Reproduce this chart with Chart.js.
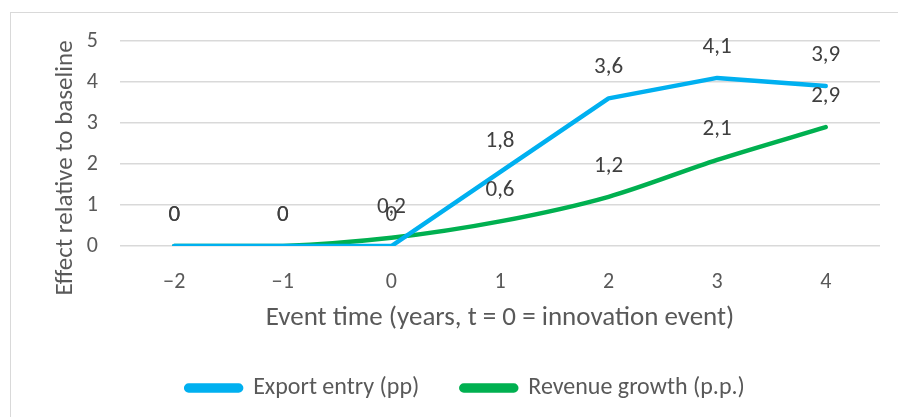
<!DOCTYPE html>
<html>
<head>
<meta charset="utf-8">
<script src="https://cdn.jsdelivr.net/npm/chart.js@4"></script>
<style>
  html, body { margin: 0; padding: 0; background: #fff; }
  #wrap { position: relative; width: 898px; height: 417px; overflow: hidden; }
  #frame { position: absolute; left: 10px; top: 12px; width: 900px; height: 420px; border: 1px solid #d9d9d9; box-sizing: border-box; }
  #chart { position: absolute; left: 0; top: 0; }
</style>
</head>
<body>
<div id="wrap">
  <div id="frame"></div>
  <canvas id="chart" width="898" height="417"></canvas>
</div>
<script>
const years = ['\u22122', '\u22121', '0', '1', '2', '3', '4'];
const exportEntry = [0, 0, 0, 1.8, 3.6, 4.1, 3.9];
const revenueGrowth = [0, 0, 0.2, 0.6, 1.2, 2.1, 2.9];

const fontFamily = "Carlito, 'Liberation Sans Narrow', 'Open Sans', sans-serif";
const textColor = '#595959';
const yTitle = 'Effect relative to baseline';

// labels drawn above every point, comma decimals like the original
const pointLabels = {
  id: 'pointLabels',
  afterDatasetsDraw(chart) {
    const ctx = chart.ctx;
    ctx.save();
    ctx.font = '23px ' + fontFamily;
    ctx.fillStyle = '#404040';
    ctx.textAlign = 'center';
    ctx.textBaseline = 'middle';
    chart.data.datasets.forEach((ds, i) => {
      chart.getDatasetMeta(i).data.forEach((pt, j) => {
        ctx.fillText(String(ds.data[j]).replace('.', ','), pt.x, pt.y - 31);
      });
    });
    ctx.restore();
  }
};

// y title sits a bit lower than the plot centre in the original, so draw it here
const sideTitle = {
  id: 'sideTitle',
  afterDraw(chart) {
    const ctx = chart.ctx;
    ctx.save();
    ctx.translate(66, chart.chartArea.bottom - 78);
    ctx.rotate(-Math.PI / 2);
    ctx.font = '25px ' + fontFamily;
    ctx.fillStyle = textColor;
    ctx.textAlign = 'center';
    ctx.textBaseline = 'middle';
    ctx.fillText(yTitle, 0, 0);
    ctx.restore();
  }
};

new Chart(document.getElementById('chart'), {
  type: 'line',
  data: {
    labels: years,
    datasets: [{
      label: 'Export entry (pp)',
      data: exportEntry,
      borderColor: '#00b0f0',
      backgroundColor: '#00b0f0',
      borderWidth: 4.5,
      pointRadius: 0,
      tension: 0,
      borderCapStyle: 'round',
      borderJoinStyle: 'round'
    }, {
      label: 'Revenue growth (p.p.)',
      data: revenueGrowth,
      borderColor: '#00b050',
      backgroundColor: '#00b050',
      borderWidth: 4.5,
      pointRadius: 0,
      tension: 0.3,
      borderCapStyle: 'round',
      borderJoinStyle: 'round'
    }]
  },
  options: {
    responsive: false,
    animation: false,
    layout: { padding: { left: 51, right: 18, top: 41, bottom: 7 } },
    plugins: {
      tooltip: { enabled: false },
      legend: {
        position: 'bottom',
        labels: {
          color: textColor,
          font: { family: fontFamily, size: 24 },
          boxWidth: 55,
          boxHeight: 5,
          useBorderRadius: true,
          borderRadius: 2.5,
          padding: 42
        }
      }
    },
    scales: {
      x: {
        offset: true,
        afterFit(scale) { scale.height = 88; },
        grid: { display: false, drawTicks: false },
        border: { display: false },
        ticks: { color: textColor, font: { family: fontFamily, size: 22 }, padding: 23 },
        title: {
          display: true,
          text: 'Event time (years, t = 0 = innovation event)',
          color: textColor,
          font: { family: fontFamily, size: 27 },
          padding: { top: 0, bottom: 0 }
        }
      },
      y: {
        min: 0,
        max: 5,
        afterFit(scale) { scale.width = 69; },
        grid: { color: '#d9d9d9', lineWidth: 1.5, drawTicks: false },
        border: { display: false },
        ticks: { stepSize: 1, color: textColor, font: { family: fontFamily, size: 22 }, padding: 22 }
      }
    }
  },
  plugins: [pointLabels, sideTitle]
});
</script>
</body>
</html>
